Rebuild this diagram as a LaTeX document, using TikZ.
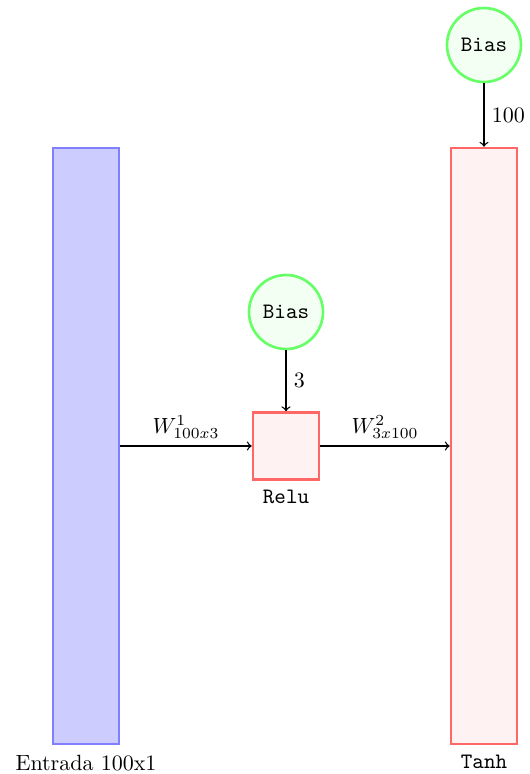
\documentclass[tikz,border=0pt]{standalone}
\begin{document}
\begin{tikzpicture}[x=0.4545pt,y=-0.4545pt,
  inbox/.style={draw=blue!50,fill=blue!20,line width=1.2pt,minimum width=66*0.4545pt,minimum height=596*0.4545pt,inner sep=0pt},
  actbox/.style={draw=red!60,fill=red!5,line width=1.2pt,inner sep=0pt},
  biasnode/.style={circle,draw=green!60,fill=green!5,line width=1.2pt,minimum size=74*0.4545pt,inner sep=0pt,font=\ttfamily},
  lbl/.style={inner sep=1pt},
  conn/.style={->,semithick},
  wl/.style={above,inner sep=3pt}]
\useasboundingbox (0,0) rectangle (530,774);
\node[inbox] (in) at (86,446) {};
\node[actbox,minimum width=66*0.4545pt,minimum height=67*0.4545pt] (relu) at (286,446) {};
\node[actbox,minimum width=66*0.4545pt,minimum height=596*0.4545pt] (tanh) at (484,446) {};
\node[biasnode] (b1) at (286,312) {Bias};
\node[biasnode] (b2) at (484,45) {Bias};
\node[lbl] (lin) at (86,763) {Entrada 100x1};
\node[lbl,font=\ttfamily] (lrelu) at (286,497) {Relu};
\node[lbl,font=\ttfamily] (ltanh) at (484,762) {Tanh};
\draw[conn] (in) -- node[wl] {$W^1_{100x3}$} (relu);
\draw[conn] (relu) -- node[wl] {$W^2_{3x100}$} (tanh);
\draw[conn] (b1) -- node[right] {$3$} (relu);
\draw[conn] (b2) -- node[right] {$100$} (tanh);
\end{tikzpicture}
\end{document}
